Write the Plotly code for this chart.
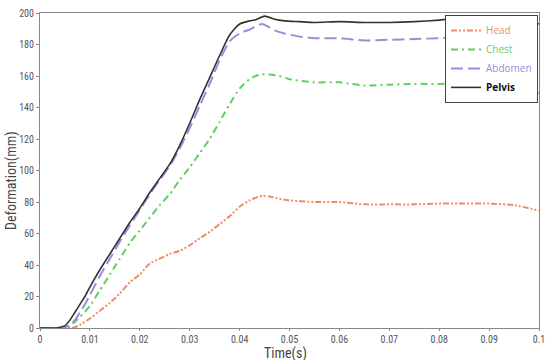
import plotly.graph_objects as go

# Data
head_t = [0, 0.006, 0.007, 0.008, 0.01, 0.012, 0.014, 0.016, 0.018, 0.02, 0.022, 0.024, 0.026, 0.028,
          0.03, 0.032, 0.034, 0.036, 0.038, 0.04, 0.042, 0.0445, 0.046, 0.048, 0.05, 0.055, 0.06, 0.065,
          0.07, 0.075, 0.08, 0.085, 0.09, 0.095, 0.1]
head_v = [0, 0, 0.5, 2, 6, 11, 16, 22, 29, 34, 41, 44, 47, 49,
          52.5, 57, 61, 66, 71, 77, 81, 84, 83.5, 82, 81, 80, 80, 78.5,
          78.5, 78.5, 79, 79, 79, 78, 74.5]

chest_t = [0, 0.005, 0.006, 0.007, 0.008, 0.01, 0.012, 0.014, 0.016, 0.018, 0.02, 0.022, 0.024, 0.026,
           0.028, 0.03, 0.032, 0.034, 0.036, 0.038, 0.04, 0.042, 0.044, 0.046, 0.048, 0.05, 0.055, 0.06,
           0.065, 0.07, 0.075, 0.08, 0.085, 0.09, 0.095, 0.1]
chest_v = [0, 0, 1, 4, 7, 14, 24, 34, 44, 54, 62, 70, 78, 85,
           94, 102, 111, 120, 131, 142, 152, 158, 161, 161, 160, 158, 156, 156,
           154, 154.5, 155, 155, 155.5, 156, 154, 149]

abdomen_t = [0, 0.004, 0.005, 0.006, 0.007, 0.008, 0.009, 0.01, 0.012, 0.014, 0.016, 0.018, 0.02, 0.022,
             0.024, 0.026, 0.028, 0.03, 0.032, 0.034, 0.036, 0.038, 0.04, 0.042, 0.0445, 0.047, 0.049,
             0.052, 0.055, 0.06, 0.065, 0.07, 0.075, 0.08, 0.085, 0.09, 0.095, 0.1]
abdomen_v = [0, 0, 0.5, 2, 5, 10, 15, 21, 33, 44, 55, 65, 75, 85,
             94, 103, 114, 127, 141, 155, 170, 182, 187, 189.5, 193, 189, 187,
             185, 184, 184, 182.5, 183, 183.5, 184, 185, 187, 187.5, 180]

pelvis_t = [0, 0.003, 0.004, 0.005, 0.006, 0.007, 0.008, 0.009, 0.01, 0.012, 0.014, 0.016, 0.018, 0.02,
            0.022, 0.024, 0.026, 0.028, 0.03, 0.032, 0.034, 0.036, 0.038, 0.04, 0.042, 0.043, 0.045,
            0.047, 0.049, 0.052, 0.055, 0.06, 0.065, 0.07, 0.075, 0.08, 0.085, 0.09, 0.095, 0.1]
pelvis_v = [0, 0, 0.5, 1.5, 5, 10, 15, 20, 26, 37, 47, 57, 67, 76,
            86, 95, 104, 116, 130, 145, 159, 173, 186, 193, 195, 195.5, 198,
            196, 195, 194.5, 194, 194.5, 194, 194, 194.5, 195.5, 197, 198, 197.5, 193]

x_ticks = [0, 0.01, 0.02, 0.03, 0.04, 0.05, 0.06, 0.07, 0.08, 0.09, 0.1]
x_ticktext = ["0", "0.01", "0.02", "0.03", "0.04", "0.05", "0.06", "0.07", "0.08", "0.09", "0.1"]
y_ticks = [0, 20, 40, 60, 80, 100, 120, 140, 160, 180, 200]

series = [
    ("Head", head_t, head_v, "#F08C64", "6px,2px,2px,2px,2px,2px", 2),
    ("Chest", chest_t, chest_v, "#5CD05C", "7px,4px,2px,4px", 2),
    ("Abdomen", abdomen_t, abdomen_v, "#9B8BE0", "12px,5px", 2),
    ("Pelvis", pelvis_t, pelvis_v, "#333333", "solid", 1.6),
]

fig = go.Figure()
for name, t, v, color, dash, w in series:
    label = f'<span style="color:{color}">{name}</span>'
    if name == "Pelvis":
        label = f'<b><span style="color:#111111">{name}</span></b>'
    fig.add_trace(go.Scatter(x=t, y=v, mode="lines", name=label,
                             line=dict(color=color, dash=dash, width=w, shape="spline", smoothing=0.6)))

narrow = "Liberation Sans Narrow, Arial Narrow, Roboto Condensed, sans-serif"
tick_font = dict(family=narrow, size=10, color="#555555")
title_font = dict(family=narrow, size=14, color="#444444")
fig.update_layout(
    width=550, height=360,
    margin=dict(l=40, r=11, t=13, b=32, autoexpand=False),
    paper_bgcolor="white", plot_bgcolor="white",
    font=dict(family="Open Sans, sans-serif", color="#444444"),
    showlegend=True,
    legend=dict(x=0.998, y=0.994, xanchor="right", yanchor="top",
                bgcolor="white", bordercolor="#444444", borderwidth=1,
                font=dict(family="Open Sans, sans-serif", size=10),
                tracegroupgap=0, itemwidth=30),
    xaxis=dict(range=[0, 0.1], tickvals=x_ticks, ticktext=x_ticktext, tickfont=tick_font,
               showgrid=False, zeroline=False, showline=True, linecolor="#888888", linewidth=1,
               mirror=True, ticks="outside", ticklen=2, tickcolor="#888888", automargin=False),
    yaxis=dict(range=[0, 200], tickvals=y_ticks, tickfont=tick_font,
               showgrid=False, zeroline=False, showline=True, linecolor="#888888", linewidth=1,
               mirror=True, ticks="outside", ticklen=3, tickcolor="#888888", automargin=False),
    annotations=[
        dict(text="Time(s)", xref="paper", yref="paper", x=0.492, y=-0.081, xanchor="center",
             yanchor="middle", showarrow=False, font=title_font, borderpad=0),
        dict(text="Deformation(mm)", xref="paper", yref="paper", x=-0.056, y=0.467, xanchor="center",
             yanchor="middle", textangle=-90, showarrow=False, font=title_font),
    ],
)
fig.write_html("out.html", config={"displayModeBar": False},
               post_script="document.body.style.margin='0';document.body.style.overflow='hidden';")
